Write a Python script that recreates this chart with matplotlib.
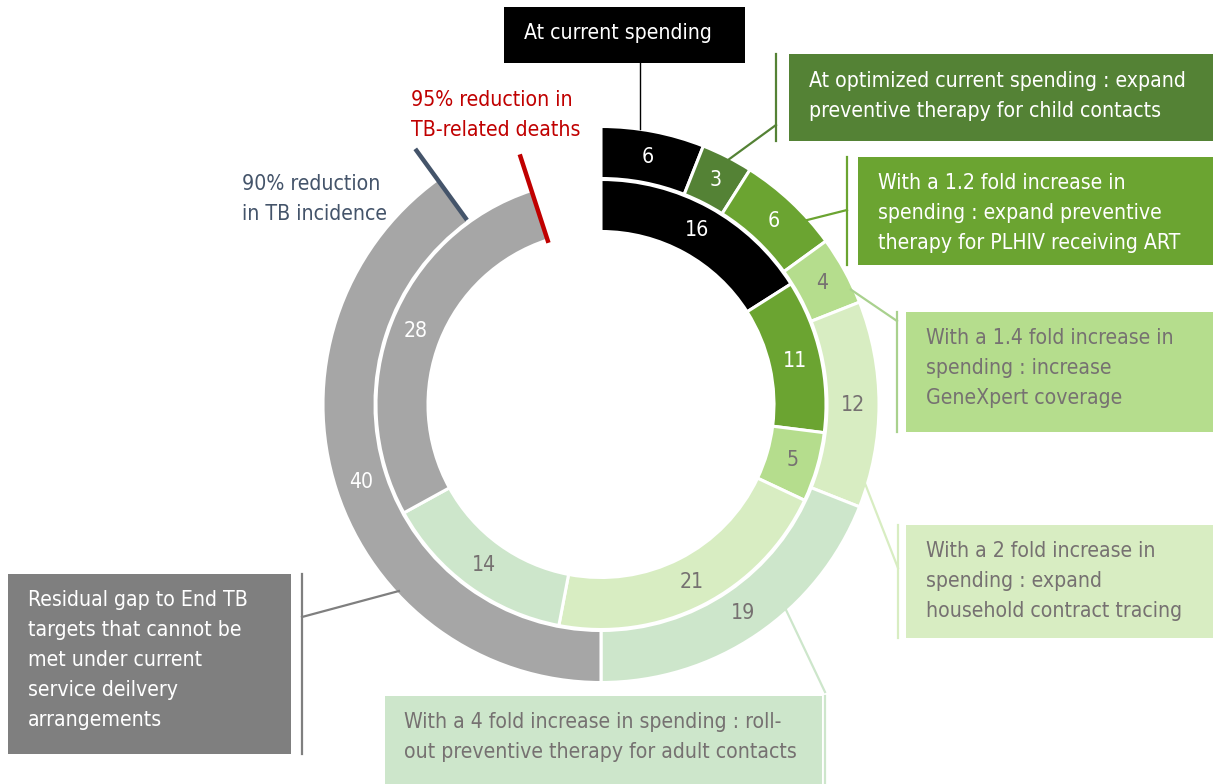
import matplotlib
matplotlib.use('Agg')
import matplotlib.pyplot as plt
from matplotlib.patches import Rectangle
import numpy as np

# ---------------- data ----------------
outer_values = [6, 3, 6, 4, 12, 19, 40]          # TB incidence reduction (target 90%)
inner_values = [16, 11, 5, 21, 14, 28]           # TB deaths reduction (target 95%)
outer_target = 90
inner_target = 95

outer_colors = ['#000000', '#548235', '#6ba431', '#b5dd8d', '#d8edc2', '#cde6cb', '#a6a6a6']
inner_colors = ['#000000', '#6ba431', '#b5dd8d', '#d8edc2', '#cde6cb', '#a6a6a6']
outer_label_colors = ['white', 'white', 'white', '#767171', '#767171', '#767171', 'white']
inner_label_colors = ['white', 'white', '#767171', '#767171', '#767171', 'white']

callout_texts = [
    ["At current spending"],
    ["At optimized current spending : expand", "preventive therapy for child contacts"],
    ["With a 1.2 fold increase in", "spending : expand preventive", "therapy for PLHIV receiving ART"],
    ["With a 1.4 fold increase in", "spending : increase", "GeneXpert coverage"],
    ["With a 2 fold increase in", "spending : expand", "household contract tracing"],
    ["With a 4 fold increase in spending : roll-", "out preventive therapy for adult contacts"],
    ["Residual gap to End TB", "targets that cannot be", "met under current",
     "service deilvery", "arrangements"],
]
target_texts = {
    'deaths': ["95% reduction in", "TB-related deaths"],
    'incidence': ["90% reduction", "in TB incidence"],
}

# ---------------- layout (pixel space, y downward) ----------------
W, H = 1213, 784
CX, CY = 601, 404.5
R_OUT, R_IN, RING_W = 278, 225, 52

plt.rcParams['font.family'] = ['Liberation Sans Narrow', 'DejaVu Sans']
plt.rcParams['font.stretch'] = 'condensed'

fig = plt.figure(figsize=(W / 100, H / 100), dpi=100)
ax = fig.add_axes([0, 0, 1, 1])

def Y(p):
    return H - p

wp = dict(width=RING_W, edgecolor='white', linewidth=2.2)
ow, _ = ax.pie(outer_values + [100 - sum(outer_values)], colors=outer_colors + ['white'],
               radius=R_OUT, center=(CX, Y(CY)), startangle=90, counterclock=False,
               wedgeprops=wp)
iw, _ = ax.pie(inner_values + [100 - sum(inner_values)], colors=inner_colors + ['white'],
               radius=R_IN, center=(CX, Y(CY)), startangle=90, counterclock=False,
               wedgeprops=wp)
ow[-1].set_visible(False)
iw[-1].set_visible(False)

ax.set_xlim(0, W)
ax.set_ylim(0, H)
ax.set_aspect('equal')
ax.axis('off')

WEIGHT = 'normal'

# font calibration: fit the reference width of one callout line
renderer = fig.canvas.get_renderer()
tmp = ax.text(0, 0, "At optimized current spending : expand", fontsize=18, fontweight=WEIGHT)
wpx = tmp.get_window_extent(renderer).width
tmp.remove()
FS = 18 * 377 / wpx
FS_LAB = FS * 1.0

# data labels
def label_ring(wedges, values, r_mid, colors):
    for w, v, c in zip(wedges, values, colors):
        a = np.deg2rad((w.theta1 + w.theta2) / 2)
        ax.text(CX + r_mid * np.cos(a), Y(CY) + r_mid * np.sin(a), str(v),
                ha='center', va='center', fontsize=FS_LAB, color=c, zorder=5)

label_ring(ow, outer_values, R_OUT - RING_W / 2, outer_label_colors)
label_ring(iw, inner_values, R_IN - RING_W / 2, inner_label_colors)

# target markers
def target_line(frac, r0, r1, color):
    a = np.deg2rad(90 - 360 * frac / 100)
    ax.plot([CX + r0 * np.cos(a), CX + r1 * np.cos(a)],
            [Y(CY) + r0 * np.sin(a), Y(CY) + r1 * np.sin(a)],
            color=color, lw=3.2, solid_capstyle='butt', zorder=6)

target_line(inner_target, 170, 263, '#c00000')
target_line(outer_target, 228, 316, '#44546a')

def lines_text(lines, x, yc, color, ha='left', step=30):
    n = len(lines)
    for i, s in enumerate(lines):
        ax.text(x, Y(yc + (i - (n - 1) / 2) * step), s, ha=ha, va='center',
                fontsize=FS, color=color, fontweight=WEIGHT, zorder=7)

lines_text(target_texts['deaths'], 411, 115, '#c00000')
lines_text(target_texts['incidence'], 242, 198.5, '#44546a')

# callout boxes: (box x0, y0, x1, y1), text x, text center y, fill, text color, bar x, attach angle
boxes = [
    ((504, 7, 745, 63), 618, 33, '#000000', 'white', None, None),
    ((789, 54, 1213, 141), 809, 95.5, '#548235', 'white', 776, 27.4),
    ((858, 157, 1213, 265), 878, 213, '#6ba431', 'white', 847, 48.0),
    ((906, 312, 1213, 432), 926, 367.5, '#b5dd8d', '#767171', 897, 65.3),
    ((906, 525, 1213, 638), 926, 581, '#d8edc2', '#767171', 898, 106.5),
    ((385, 696, 822, 790), 404, 737, '#cde6cb', '#767171', 825, 137.9),
    ((8, 574, 291, 754), 28, 660, '#7f7f7f', 'white', 302, 227.3),
]
leader_ends = [None, 125, 210, 321, 568, 692, 617]
line_colors = ['#000000', '#548235', '#6ba431', '#a9d18e', '#d8edc2', '#cde6cb', '#7f7f7f']

for k, ((x0, y0, x1, y1), tx, ty, fc, tc, bx, ang) in enumerate(boxes):
    ax.add_patch(Rectangle((x0, Y(y1)), x1 - x0, y1 - y0, facecolor=fc,
                           edgecolor='none', zorder=4))
    if k == 0:
        lines_text(callout_texts[k], tx, ty, tc, ha='center')
        xl = 640
        yr = CY - np.sqrt(R_OUT ** 2 - (xl - CX) ** 2)
        ax.plot([xl, xl], [Y(y1), Y(yr)], color='black', lw=1.0, zorder=3)
    else:
        lines_text(callout_texts[k], tx, ty, tc)
        ax.plot([bx, bx], [Y(y0), Y(min(y1, H))], color=line_colors[k], lw=1.6, zorder=3)
        a = np.deg2rad(ang)
        px, py = CX + 275 * np.sin(a), CY - 275 * np.cos(a)
        ax.plot([px, bx], [Y(py), Y(leader_ends[k])], color=line_colors[k], lw=1.6, zorder=3)

fig.savefig('out.png', dpi=100)
